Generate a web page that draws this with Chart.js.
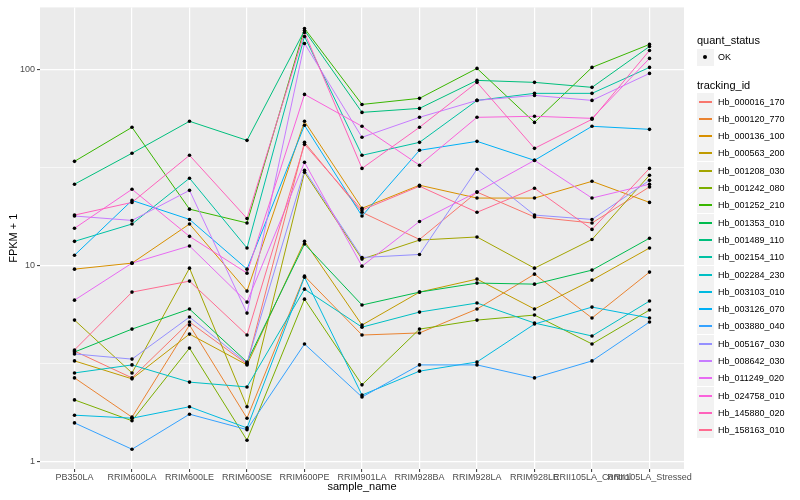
<!DOCTYPE html>
<html>
<head>
<meta charset="utf-8">
<script src="https://cdn.jsdelivr.net/npm/chart.js@4.4.1/dist/chart.umd.min.js"></script>
<style>
    body { margin: 0; background: #fff; font-family: "Liberation Sans", Arial, sans-serif; }
    #wrap { position: relative; width: 800px; height: 500px; }
    #chart { position: absolute; left: 0; top: 0; }
    .lg-title { position: absolute; left: 697px; font-size: 11px; color: #000; line-height: 12px; }
    .lg-key { position: absolute; left: 697px; width: 17px; height: 17px; background: #F2F2F2; }
    .lg-line { position: absolute; left: 2px; right: 2px; top: 8px; height: 2px; }
    .lg-dot { position: absolute; left: 6px; top: 6px; width: 4px; height: 4px; border-radius: 2px; background: #000; }
    .lg-text { position: absolute; left: 718px; font-size: 9px; color: #000; line-height: 10px; }
</style>
</head>
<body>
<div id="wrap">
    <canvas id="chart" width="800" height="500"></canvas>
    <div id="legend"></div>
</div>
<script>
// categories on the x axis
const categories = ["PB350LA", "RRIM600LA", "RRIM600LE", "RRIM600SE", "RRIM600PE", "RRIM901LA",
    "RRIM928BA", "RRIM928LA", "RRIM928LE", "RRII105LA_Control", "RRII105LA_Stressed"];

const trackingIds = ["Hb_000016_170", "Hb_000120_770", "Hb_000136_100", "Hb_000563_200", "Hb_001208_030",
    "Hb_001242_080", "Hb_001252_210", "Hb_001353_010", "Hb_001489_110", "Hb_002154_110",
    "Hb_002284_230", "Hb_003103_010", "Hb_003126_070", "Hb_003880_040", "Hb_005167_030",
    "Hb_008642_030", "Hb_011249_020", "Hb_024758_010", "Hb_145880_020", "Hb_158163_010"];

// ggplot default hue palette for 20 levels
const seriesColors = ["#F8766D", "#EA8331", "#D89000", "#C09B00", "#A3A500", "#7CAE00", "#39B600",
    "#00BB4E", "#00BF7D", "#00C1A3", "#00BFC4", "#00BAE0", "#00B0F6", "#35A2FF", "#9590FF",
    "#C77CFF", "#E76BF3", "#FA62DB", "#FF62BC", "#FF6C91"];

// FPKM + 1 per sample, one array per tracking id
const hb000016_170 = [3.67, 2.68, 5.16, 3.15, 42.5, 18.7, 13.6, 23.7, 17.7, 16.5, 25.2];
const hb000120_770 = [2.68, 1.69, 4.98, 1.67, 8.84, 4.43, 4.54, 6.01, 9.05, 5.41, 9.27];
const hb000136_100 = [9.60, 10.3, 16.3, 7.42, 54.4, 19.6, 25.7, 22.1, 22.1, 26.9, 21.0];
const hb000563_200 = [3.27, 2.65, 4.48, 3.12, 13.3, 4.98, 7.33, 8.54, 6.01, 8.44, 12.3];
const hb001208_030 = [5.28, 2.84, 9.71, 1.91, 29.9, 10.8, 13.5, 14.0, 9.71, 13.6, 28.9];
const hb001242_080 = [2.07, 1.62, 3.80, 1.29, 6.75, 2.47, 4.75, 5.28, 5.60, 3.99, 5.94];
const hb001252_210 = [34.0, 50.7, 19.4, 16.5, 161.7, 66.3, 71.2, 101.2, 53.7, 102.4, 134.1];
const hb001353_010 = [3.63, 4.75, 6.01, 3.23, 12.9, 6.30, 7.33, 8.15, 8.05, 9.49, 13.8];
const hb001489_110 = [26.0, 37.4, 54.4, 43.5, 157.9, 60.4, 63.3, 87.9, 85.9, 81.0, 130.9];
const hb002154_110 = [13.3, 16.3, 27.9, 12.3, 147.2, 36.5, 42.5, 69.5, 75.5, 75.5, 102.4];
const hb002284_230 = [2.84, 3.12, 2.55, 2.41, 7.59, 4.86, 5.80, 6.45, 5.10, 4.38, 6.60];
const hb003103_010 = [1.73, 1.67, 1.91, 1.49, 8.74, 2.19, 2.90, 3.23, 5.04, 6.15, 5.41];
const hb003126_070 = [11.3, 21.5, 17.2, 9.60, 51.9, 17.9, 38.7, 43.0, 34.4, 51.3, 49.5];
const hb003880_040 = [1.58, 1.16, 1.75, 1.46, 3.99, 2.14, 3.12, 3.12, 2.68, 3.27, 5.16];
const hb005167_030 = [3.55, 3.34, 5.47, 3.19, 30.6, 11.0, 11.4, 31.0, 18.1, 17.2, 27.2];
const hb008642_030 = [17.9, 17.0, 24.2, 5.73, 135.6, 45.1, 57.0, 69.5, 73.7, 69.5, 95.4];
const hb011249_020 = [6.67, 10.3, 12.6, 6.52, 33.6, 9.94, 16.8, 23.7, 34.4, 22.1, 26.0];
const hb024758_010 = [15.5, 24.5, 14.1, 9.16, 74.6, 51.3, 32.5, 57.0, 57.7, 56.3, 113.8];
const hb145880_020 = [18.1, 21.0, 36.5, 17.4, 154.3, 31.3, 50.7, 85.9, 39.6, 55.7, 124.9];
const hb158163_010 = [3.72, 7.33, 8.34, 4.43, 41.5, 19.2, 25.4, 18.7, 24.8, 15.3, 31.3];

const seriesValues = [hb000016_170, hb000120_770, hb000136_100, hb000563_200, hb001208_030,
    hb001242_080, hb001252_210, hb001353_010, hb001489_110, hb002154_110, hb002284_230,
    hb003103_010, hb003126_070, hb003880_040, hb005167_030, hb008642_030, hb011249_020,
    hb024758_010, hb145880_020, hb158163_010];

// log axis breaks (major + ggplot minor half-decades)
const yTicks = [1, 3.162, 10, 31.62, 100];
const yTickLabels = ["1", "", "10", "", "100"];

function toPoints(values) {
    return values.map(function (v, i) { return { x: i, y: v }; });
}

let datasets = [];
// lines first
seriesValues.forEach(function (vals, i) {
    datasets.push({
        label: trackingIds[i],
        data: toPoints(vals),
        borderColor: seriesColors[i],
        borderWidth: 1,
        pointRadius: 0,
        tension: 0,
        order: 100 - i
    });
});
// points on top of every line
seriesValues.forEach(function (vals, i) {
    datasets.push({
        label: trackingIds[i] + " pts",
        data: toPoints(vals),
        showLine: false,
        pointRadius: 1.8,
        pointBackgroundColor: "#000",
        pointBorderWidth: 0,
        order: 1
    });
});

// grey ggplot panel
const panelBg = {
    id: "panelBg",
    beforeDraw(chart) {
        const a = chart.chartArea;
        const ctx = chart.ctx;
        ctx.save();
        ctx.fillStyle = "#EBEBEB";
        ctx.fillRect(a.left, a.top, a.right - a.left, a.bottom - a.top);
        ctx.restore();
    }
};

function isMajor(ctx) {
    return ctx.tick && yTicks.indexOf(ctx.tick.value) % 2 == 0;
}

const chart = new Chart(document.getElementById("chart"), {
    type: "line",
    data: { datasets: datasets },
    plugins: [panelBg],
    options: {
        responsive: false,
        animation: false,
        layout: { padding: { left: 0, right: 116, top: 5, bottom: 0 } },
        scales: {
            x: {
                type: "linear",
                min: -0.6,
                max: 10.6,
                afterBuildTicks: function (axis) {
                    axis.ticks = categories.map(function (c, i) { return { value: i }; });
                },
                afterFit: function (axis) { axis.height = 31; },
                border: { display: false },
                grid: { color: "#FFFFFF", lineWidth: 1.2, tickColor: "#333333", tickLength: 3, tickWidth: 1 },
                ticks: {
                    autoSkip: false,
                    maxRotation: 0,
                    padding: 0,
                    color: "#4D4D4D",
                    font: { family: "Liberation Sans", size: 9 },
                    callback: function (value) { return categories[value]; }
                },
                title: {
                    display: true,
                    text: "sample_name",
                    color: "#000",
                    font: { family: "Liberation Sans", size: 11 },
                    padding: { top: 0, bottom: 6 }
                }
            },
            y: {
                type: "logarithmic",
                min: 0.92,
                max: 207,
                afterBuildTicks: function (axis) {
                    axis.ticks = yTicks.map(function (v) { return { value: v }; });
                },
                afterFit: function (axis) { axis.width = 40; },
                border: { display: false },
                grid: {
                    color: "#FFFFFF",
                    lineWidth: function (ctx) { return isMajor(ctx) ? 1.2 : 0.6; },
                    tickColor: function (ctx) { return isMajor(ctx) ? "#333333" : "rgba(0,0,0,0)"; },
                    tickLength: 3,
                    tickWidth: 1
                },
                ticks: {
                    padding: 2,
                    color: "#4D4D4D",
                    font: { family: "Liberation Sans", size: 9 },
                    callback: function (value, index) { return yTickLabels[index]; }
                },
                title: {
                    display: true,
                    text: "FPKM + 1",
                    color: "#000",
                    font: { family: "Liberation Sans", size: 11 },
                    padding: { top: 7, bottom: 0 }
                }
            }
        },
        plugins: {
            legend: { display: false },
            tooltip: { enabled: false }
        }
    }
});

// legend on the right, built as html text
const legend = document.getElementById("legend");
let html = '<div class="lg-title" style="top:34px">quant_status</div>';
html += '<div class="lg-key" style="top:49px"><div class="lg-dot"></div></div>';
html += '<div class="lg-text" style="top:52px">OK</div>';
html += '<div class="lg-title" style="top:79px">tracking_id</div>';
trackingIds.forEach(function (id, i) {
    let top = Math.round(92.5 + i * 17.3);
    html += '<div class="lg-key" style="top:' + top + 'px"><div class="lg-line" style="background:' + seriesColors[i] + '"></div></div>';
    html += '<div class="lg-text" style="top:' + (top + 4) + 'px">' + id + '</div>';
});
legend.innerHTML = html;
</script>
</body>
</html>
